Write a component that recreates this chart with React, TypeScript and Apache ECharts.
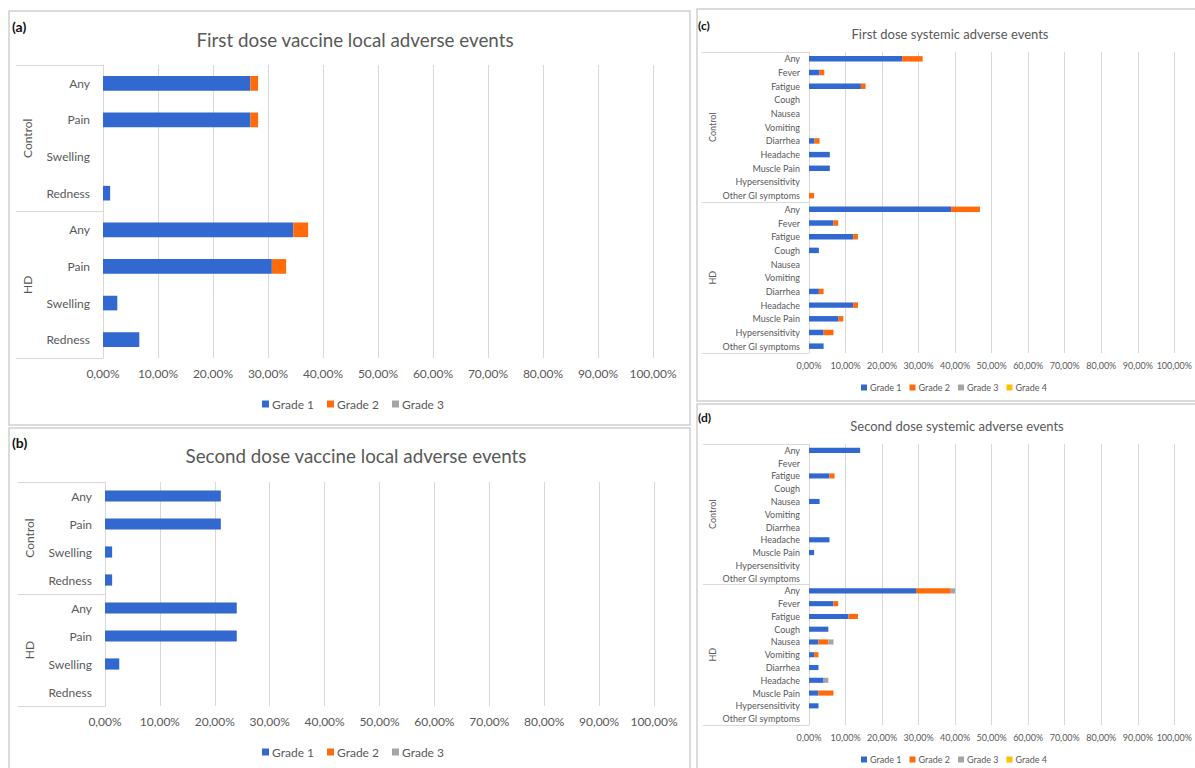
import React, { useEffect, useRef } from 'react';
import * as echarts from 'echarts';

// Category structure
const groups = ['Control', 'HD'];
const localEvents = ['Any', 'Pain', 'Swelling', 'Redness'];
const systemicEvents = [
  'Any', 'Fever', 'Fatigue', 'Cough', 'Nausea', 'Vomiting',
  'Diarrhea', 'Headache', 'Muscle Pain', 'Hypersensitivity', 'Other GI symptoms',
];
const gradeNames = ['Grade 1', 'Grade 2', 'Grade 3', 'Grade 4'];
const gradeColors = ['#3169D1', '#FF6A0B', '#A5A5A5', '#FFC000'];

// Percent of patients, Control rows first, then HD rows
// (a) First dose, local
const firstLocalG1 = [26.8, 26.8, 0, 1.3, 34.6, 30.7, 2.6, 6.6];
const firstLocalG2 = [1.4, 1.4, 0, 0, 2.7, 2.6, 0, 0];
const firstLocalG3 = [0, 0, 0, 0, 0, 0, 0, 0];

// (b) Second dose, local
const secondLocalG1 = [21.1, 21.1, 1.3, 1.3, 24.0, 24.0, 2.6, 0];
const secondLocalG2 = [0, 0, 0, 0, 0, 0, 0, 0];
const secondLocalG3 = [0, 0, 0, 0, 0, 0, 0, 0];

// (c) First dose, systemic
const firstSysG1 = [25.5, 2.9, 14.2, 0, 0, 0, 1.5, 5.7, 5.7, 0, 0, 38.9, 6.7, 12.1, 2.7, 0, 0, 2.7, 12.1, 8.1, 4.0, 4.0];
const firstSysG2 = [5.6, 1.3, 1.3, 0, 0, 0, 1.4, 0, 0, 0, 1.4, 7.9, 1.3, 1.3, 0, 0, 0, 1.3, 1.3, 1.3, 2.7, 0];
const firstSysG3 = [0, 0, 0, 0, 0, 0, 0, 0, 0, 0, 0, 0, 0, 0, 0, 0, 0, 0, 0, 0, 0, 0];
const firstSysG4 = [0, 0, 0, 0, 0, 0, 0, 0, 0, 0, 0, 0, 0, 0, 0, 0, 0, 0, 0, 0, 0, 0];

// (d) Second dose, systemic
const secondSysG1 = [14.0, 0, 5.6, 0, 2.9, 0, 0, 5.6, 1.4, 0, 0, 29.3, 6.7, 10.8, 5.3, 2.6, 1.4, 2.6, 4.0, 2.6, 2.6, 0];
const secondSysG2 = [0, 0, 1.4, 0, 0, 0, 0, 0, 0, 0, 0, 9.5, 1.3, 2.6, 0, 2.7, 1.2, 0, 0, 4.1, 0, 0];
const secondSysG3 = [0, 0, 0, 0, 0, 0, 0, 0, 0, 0, 0, 1.2, 0, 0, 0, 1.4, 0, 0, 1.3, 0, 0, 0];
const secondSysG4 = [0, 0, 0, 0, 0, 0, 0, 0, 0, 0, 0, 0, 0, 0, 0, 0, 0, 0, 0, 0, 0, 0];

const panelTitles = [
  'First dose vaccine local adverse events',
  'Second dose vaccine local adverse events',
  'First dose systemic adverse events',
  'Second dose systemic adverse events',
];
const panelTags = ['(a)', '(b)', '(c)', '(d)'];

const FONT = 'Lato, "Noto Sans", sans-serif';
const TEXT = '#595959';
const LINE = '#d9d9d9';

type Panel = {
  grid: { left: number; top: number; width: number; height: number };
  events: string[];
  series: number[][];
  fontSize: number;
  tickLength: number;
  groupMargin: number;
  catMargin: number;
  xMargin: number;
  title: { x: number; y: number; size: number };
  tag: { x: number; y: number; size: number };
  legend: { left: number; top: number; gap: number; icon: number };
  frame: { x: number; y: number; w: number; h: number };
};

const panels: Panel[] = [
  {
    grid: { left: 103, top: 65, width: 550, height: 293 },
    events: localEvents,
    series: [firstLocalG1, firstLocalG2, firstLocalG3],
    fontSize: 12, tickLength: 87, groupMargin: 70, catMargin: 13, xMargin: 9,
    title: { x: 350, y: 25, size: 18.8 },
    tag: { x: 12, y: 19, size: 14 },
    legend: { left: 262, top: 398, gap: 13, icon: 7 },
    frame: { x: 9, y: 11, w: 681, h: 414 },
  },
  {
    grid: { left: 105, top: 482, width: 549, height: 224 },
    events: localEvents,
    series: [secondLocalG1, secondLocalG2, secondLocalG3],
    fontSize: 12, tickLength: 87, groupMargin: 70, catMargin: 13, xMargin: 9,
    title: { x: 351, y: 441, size: 18.8 },
    tag: { x: 12, y: 435, size: 14 },
    legend: { left: 262, top: 746, gap: 13, icon: 7 },
    frame: { x: 9, y: 428, w: 681, h: 345 },
  },
  {
    grid: { left: 809, top: 52, width: 369, height: 301 },
    events: systemicEvents,
    series: [firstSysG1, firstSysG2, firstSysG3, firstSysG4],
    fontSize: 9, tickLength: 107, groupMargin: 92, catMargin: 9, xMargin: 8,
    title: { x: 945, y: 22, size: 13 },
    tag: { x: 698, y: 19, size: 12 },
    legend: { left: 861, top: 383, gap: 8, icon: 6 },
    frame: { x: 697, y: 9, w: 505, h: 392 },
  },
  {
    grid: { left: 809, top: 444, width: 369, height: 281 },
    events: systemicEvents,
    series: [secondSysG1, secondSysG2, secondSysG3, secondSysG4],
    fontSize: 9, tickLength: 106, groupMargin: 92, catMargin: 9, xMargin: 8,
    title: { x: 952, y: 414, size: 13 },
    tag: { x: 698, y: 411, size: 12 },
    legend: { left: 861, top: 755, gap: 8, icon: 6 },
    frame: { x: 697, y: 404, w: 505, h: 370 },
  },
];

const pct = (v: number) => v.toFixed(2).replace('.', ',') + '%';

function buildOption() {
  const grid: any[] = [];
  const xAxis: any[] = [];
  const yAxis: any[] = [];
  const series: any[] = [];
  const legend: any[] = [];
  const title: any[] = [];
  const graphic: any[] = [];

  panels.forEach((p, i) => {
    const rows = groups.flatMap(() => p.events);
    grid.push({ ...p.grid, containLabel: false });
    xAxis.push({
      type: 'value', gridIndex: i, min: 0, max: 100, interval: 10,
      axisLine: { show: false }, axisTick: { show: false },
      splitLine: { show: true, lineStyle: { color: LINE, width: 1 } },
      axisLabel: { formatter: pct, color: TEXT, fontSize: p.fontSize, fontFamily: FONT, margin: p.xMargin },
    });
    // event names next to the bars
    yAxis.push({
      type: 'category', gridIndex: i, data: rows, inverse: true, position: 'left',
      axisLine: { show: false }, axisTick: { show: false }, splitLine: { show: false },
      axisLabel: { interval: 0, color: TEXT, fontSize: p.fontSize, fontFamily: FONT, margin: p.catMargin },
    });
    // outer group level: Control / HD with bracket lines
    yAxis.push({
      type: 'category', gridIndex: i, data: groups, inverse: true, position: 'left',
      axisLine: { show: true, lineStyle: { color: LINE, width: 1 } },
      axisTick: { show: true, interval: 0, length: p.tickLength, lineStyle: { color: LINE, width: 1 } },
      splitLine: { show: false },
      axisLabel: { interval: 0, rotate: 90, color: TEXT, fontSize: p.fontSize, fontFamily: FONT, margin: p.groupMargin },
    });
    p.series.forEach((data, g) => {
      series.push({
        type: 'bar', name: gradeNames[g], xAxisIndex: i, yAxisIndex: 2 * i,
        stack: 'panel' + i, data, barCategoryGap: '60%',
        itemStyle: { color: gradeColors[g] },
      });
    });
    legend.push({
      data: gradeNames.slice(0, p.series.length),
      left: p.legend.left, top: p.legend.top, padding: 0,
      icon: 'rect', itemWidth: p.legend.icon, itemHeight: p.legend.icon,
      itemGap: p.legend.gap, selectedMode: false,
      textStyle: { color: TEXT, fontSize: p.fontSize, fontFamily: FONT, padding: [0, 0, 0, -2] },
    });
    title.push({
      text: panelTitles[i], left: p.title.x, top: p.title.y, textAlign: 'center',
      textStyle: { color: TEXT, fontSize: p.title.size, fontWeight: 'normal', fontFamily: FONT },
    });
    graphic.push({
      type: 'rect', shape: { x: p.frame.x, y: p.frame.y, width: p.frame.w, height: p.frame.h },
      style: { fill: 'none', stroke: '#cfcfcf', lineWidth: 1.5 }, silent: true,
    });
    graphic.push({
      type: 'text', x: p.tag.x, y: p.tag.y,
      style: { text: panelTags[i], fill: '#111', font: `bold ${p.tag.size}px ${FONT}` },
    });
  });

  return {
    animation: false,
    backgroundColor: '#ffffff',
    textStyle: { fontFamily: FONT },
    grid, xAxis, yAxis, series, legend, title, graphic,
  };
}

export default function App() {
  const ref = useRef<HTMLDivElement>(null);
  useEffect(() => {
    if (!ref.current) return;
    const chart = echarts.init(ref.current, undefined, { renderer: 'svg' });
    chart.setOption(buildOption());
    return () => chart.dispose();
  }, []);
  return (
    <div
      ref={ref}
      style={{ position: 'absolute', left: 0, top: 0, width: 1195, height: 768, background: '#fff' }}
    />
  );
}
